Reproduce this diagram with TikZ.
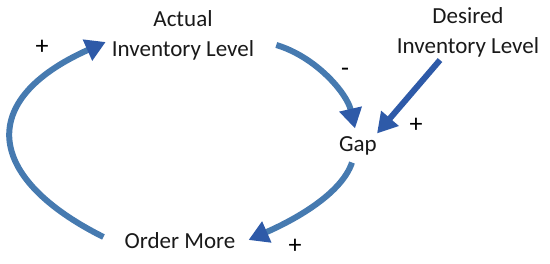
\documentclass[tikz,border=0pt]{standalone}
\usepackage{fontspec}
\setmainfont{Carlito}
\usepackage{tikz}
\usetikzlibrary{positioning, arrows.meta, calc}
\definecolor{linkblue}{RGB}{70,122,176}
\definecolor{headblue}{RGB}{46,90,168}

\begin{document}
\begin{tikzpicture}[
    x=1pt, y=-1pt,
    every node/.style={font=\fontsize{23}{30}\selectfont, align=center, inner sep=3pt},
    var/.style={text=black!90},
    sign/.style={font=\fontsize{26}{28}\selectfont, inner sep=0pt},
    link/.style={line width=6pt, linkblue, -{Triangle[length=20pt, width=22pt, color=headblue]}},
    strong/.style={line width=6pt, headblue, -{Triangle[length=20pt, width=22pt]}},
]
\useasboundingbox (0,0) rectangle (550,263);

% ── Variables ──
\node[var] (actual) at (183,35) {Actual\\Inventory Level};
\node[var] (desired) at (468,32) {Desired\\Inventory Level};
\node[var] (gap) at (358,146) {Gap};
\node[var] (order) at (180,241) {Order More};

% ── Polarity signs ──
\node[sign] (plusact) at (42,47) {+};
\node[sign] (minusgap) at (345,72) {-};
\node[sign] (plusgap) at (416,125) {+};
\node[sign] (plusord) at (295,246) {+};

% ── Links ──
% Order More -> Actual Inventory Level
\draw[link] ($(order.west)+(-18,-4)$)
    .. controls +(-118,-59) and +(-130,58) .. ($(actual.west)+(-3,7)$);
% Actual Inventory Level -> Gap
\draw[link] ($(actual.east)+(19,10)$)
    .. controls +(40,12) and +(-8,-35) .. ($(gap.north)+(-3,-5)$);
% Desired Inventory Level -> Gap
\draw[strong] ($(desired.south)+(-28,0)$) -- ($(gap.north east)+(-3,0)$);
% Gap -> Order More
\draw[link] ($(gap.south)+(-6,4)$)
    .. controls +(-10,30) and +(50,-22) .. ($(order.east)+(10,-1)$);

\end{tikzpicture}
\end{document}
